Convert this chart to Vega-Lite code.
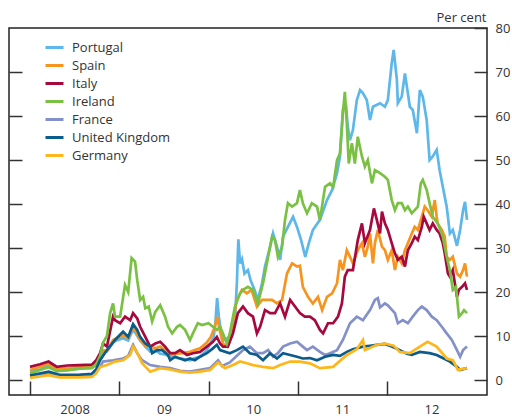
{
"$schema":"https://vega.github.io/schema/vega-lite/v6.json",
"width":478,"height":367,
"autosize":{"type":"none"},
"padding":{"left":9,"top":28,"right":25,"bottom":22},
"config":{"view":{"stroke":"#222","strokeWidth":1.5},"font":"Open Sans",
 "axis":{"labelFont":"Open Sans","labelFontSize":13,"labelColor":"#333","tickColor":"#333","tickWidth":1.5,"domain":false,"grid":false,"titleFont":"Open Sans"}},
"datasets":{"s":[
{"c":"Portugal","d":"2008-01-01","v":2.0},{"c":"Portugal","d":"2008-02-11","v":2.4},{"c":"Portugal","d":"2008-03-17","v":3.4},{"c":"Portugal","d":"2008-04-20","v":2.2},{"c":"Portugal","d":"2008-06-01","v":2.3},{"c":"Portugal","d":"2008-07-20","v":2.6},{"c":"Portugal","d":"2008-09-10","v":2.7},{"c":"Portugal","d":"2008-09-28","v":3.5},{"c":"Portugal","d":"2008-10-14","v":5.5},{"c":"Portugal","d":"2008-10-28","v":6.5},{"c":"Portugal","d":"2008-11-15","v":6.8},{"c":"Portugal","d":"2008-12-06","v":8.5},{"c":"Portugal","d":"2008-12-20","v":9.0},{"c":"Portugal","d":"2009-01-16","v":9.5},{"c":"Portugal","d":"2009-02-06","v":9.0},{"c":"Portugal","d":"2009-02-26","v":11.5},{"c":"Portugal","d":"2009-03-10","v":10.5},{"c":"Portugal","d":"2009-03-27","v":9.0},{"c":"Portugal","d":"2009-04-17","v":7.6},{"c":"Portugal","d":"2009-05-07","v":6.5},{"c":"Portugal","d":"2009-05-28","v":6.8},{"c":"Portugal","d":"2009-06-17","v":6.0},{"c":"Portugal","d":"2009-07-07","v":5.8},{"c":"Portugal","d":"2009-07-28","v":5.3},{"c":"Portugal","d":"2009-08-25","v":5.0},{"c":"Portugal","d":"2009-09-18","v":4.8},{"c":"Portugal","d":"2009-10-17","v":4.5},{"c":"Portugal","d":"2009-11-06","v":5.0},{"c":"Portugal","d":"2009-11-27","v":5.3},{"c":"Portugal","d":"2009-12-25","v":6.8},{"c":"Portugal","d":"2010-01-10","v":8.5},{"c":"Portugal","d":"2010-01-22","v":9.8},{"c":"Portugal","d":"2010-01-29","v":13.0},{"c":"Portugal","d":"2010-02-05","v":18.6},{"c":"Portugal","d":"2010-02-12","v":14.4},{"c":"Portugal","d":"2010-02-20","v":11.4},{"c":"Portugal","d":"2010-03-05","v":9.1},{"c":"Portugal","d":"2010-03-20","v":9.5},{"c":"Portugal","d":"2010-04-05","v":10.6},{"c":"Portugal","d":"2010-04-19","v":14.0},{"c":"Portugal","d":"2010-04-27","v":22.0},{"c":"Portugal","d":"2010-05-03","v":32.0},{"c":"Portugal","d":"2010-05-10","v":26.5},{"c":"Portugal","d":"2010-05-18","v":27.5},{"c":"Portugal","d":"2010-05-28","v":24.2},{"c":"Portugal","d":"2010-06-11","v":25.0},{"c":"Portugal","d":"2010-06-22","v":22.7},{"c":"Portugal","d":"2010-07-08","v":20.5},{"c":"Portugal","d":"2010-07-22","v":18.2},{"c":"Portugal","d":"2010-08-08","v":22.0},{"c":"Portugal","d":"2010-08-20","v":25.8},{"c":"Portugal","d":"2010-09-10","v":30.3},{"c":"Portugal","d":"2010-09-22","v":33.3},{"c":"Portugal","d":"2010-10-08","v":30.3},{"c":"Portugal","d":"2010-10-21","v":27.3},{"c":"Portugal","d":"2010-11-02","v":32.6},{"c":"Portugal","d":"2010-11-22","v":34.8},{"c":"Portugal","d":"2010-12-13","v":37.1},{"c":"Portugal","d":"2010-12-29","v":34.8},{"c":"Portugal","d":"2011-01-15","v":31.8},{"c":"Portugal","d":"2011-02-01","v":28.0},{"c":"Portugal","d":"2011-02-15","v":31.0},{"c":"Portugal","d":"2011-03-04","v":34.1},{"c":"Portugal","d":"2011-04-02","v":36.4},{"c":"Portugal","d":"2011-05-01","v":40.9},{"c":"Portugal","d":"2011-05-22","v":43.2},{"c":"Portugal","d":"2011-06-11","v":47.0},{"c":"Portugal","d":"2011-06-23","v":50.8},{"c":"Portugal","d":"2011-07-05","v":61.4},{"c":"Portugal","d":"2011-07-17","v":62.9},{"c":"Portugal","d":"2011-07-25","v":57.6},{"c":"Portugal","d":"2011-08-03","v":54.5},{"c":"Portugal","d":"2011-08-15","v":56.8},{"c":"Portugal","d":"2011-08-31","v":63.6},{"c":"Portugal","d":"2011-09-13","v":65.9},{"c":"Portugal","d":"2011-09-25","v":65.2},{"c":"Portugal","d":"2011-10-11","v":63.6},{"c":"Portugal","d":"2011-10-24","v":59.1},{"c":"Portugal","d":"2011-11-05","v":62.1},{"c":"Portugal","d":"2011-12-04","v":62.9},{"c":"Portugal","d":"2011-12-24","v":62.1},{"c":"Portugal","d":"2012-01-05","v":63.6},{"c":"Portugal","d":"2012-01-21","v":72.0},{"c":"Portugal","d":"2012-01-29","v":75.0},{"c":"Portugal","d":"2012-02-11","v":68.2},{"c":"Portugal","d":"2012-02-15","v":62.9},{"c":"Portugal","d":"2012-03-02","v":64.4},{"c":"Portugal","d":"2012-03-15","v":69.7},{"c":"Portugal","d":"2012-03-27","v":65.2},{"c":"Portugal","d":"2012-04-04","v":62.1},{"c":"Portugal","d":"2012-04-16","v":61.4},{"c":"Portugal","d":"2012-05-03","v":56.1},{"c":"Portugal","d":"2012-05-15","v":65.9},{"c":"Portugal","d":"2012-05-27","v":64.4},{"c":"Portugal","d":"2012-06-12","v":59.1},{"c":"Portugal","d":"2012-06-24","v":50.0},{"c":"Portugal","d":"2012-07-07","v":50.8},{"c":"Portugal","d":"2012-07-23","v":52.3},{"c":"Portugal","d":"2012-08-04","v":47.7},{"c":"Portugal","d":"2012-08-17","v":43.9},{"c":"Portugal","d":"2012-09-02","v":39.4},{"c":"Portugal","d":"2012-09-15","v":33.3},{"c":"Portugal","d":"2012-09-27","v":34.1},{"c":"Portugal","d":"2012-10-14","v":30.5},{"c":"Portugal","d":"2012-10-27","v":34.1},{"c":"Portugal","d":"2012-11-08","v":38.6},{"c":"Portugal","d":"2012-11-16","v":40.5},{"c":"Portugal","d":"2012-11-24","v":36.4},
{"c":"Spain","d":"2008-01-01","v":2.3},{"c":"Spain","d":"2008-02-11","v":3.0},{"c":"Spain","d":"2008-03-17","v":3.7},{"c":"Spain","d":"2008-04-20","v":2.5},{"c":"Spain","d":"2008-06-01","v":2.7},{"c":"Spain","d":"2008-07-20","v":3.0},{"c":"Spain","d":"2008-09-10","v":3.2},{"c":"Spain","d":"2008-09-28","v":3.8},{"c":"Spain","d":"2008-10-14","v":6.0},{"c":"Spain","d":"2008-10-26","v":6.8},{"c":"Spain","d":"2008-11-11","v":6.5},{"c":"Spain","d":"2008-12-06","v":9.1},{"c":"Spain","d":"2008-12-20","v":9.5},{"c":"Spain","d":"2009-01-16","v":10.2},{"c":"Spain","d":"2009-02-06","v":9.5},{"c":"Spain","d":"2009-02-26","v":12.1},{"c":"Spain","d":"2009-03-10","v":11.0},{"c":"Spain","d":"2009-03-27","v":9.1},{"c":"Spain","d":"2009-04-17","v":7.8},{"c":"Spain","d":"2009-05-07","v":7.6},{"c":"Spain","d":"2009-05-28","v":7.2},{"c":"Spain","d":"2009-06-17","v":7.6},{"c":"Spain","d":"2009-07-07","v":6.8},{"c":"Spain","d":"2009-07-28","v":5.7},{"c":"Spain","d":"2009-08-25","v":6.0},{"c":"Spain","d":"2009-09-18","v":6.1},{"c":"Spain","d":"2009-10-17","v":6.4},{"c":"Spain","d":"2009-11-06","v":6.8},{"c":"Spain","d":"2009-11-27","v":7.2},{"c":"Spain","d":"2009-12-25","v":8.5},{"c":"Spain","d":"2010-01-10","v":9.8},{"c":"Spain","d":"2010-01-27","v":12.1},{"c":"Spain","d":"2010-02-05","v":14.4},{"c":"Spain","d":"2010-02-17","v":11.0},{"c":"Spain","d":"2010-03-01","v":8.3},{"c":"Spain","d":"2010-03-17","v":7.6},{"c":"Spain","d":"2010-04-07","v":12.1},{"c":"Spain","d":"2010-04-27","v":18.2},{"c":"Spain","d":"2010-05-18","v":20.5},{"c":"Spain","d":"2010-06-07","v":19.7},{"c":"Spain","d":"2010-06-26","v":20.5},{"c":"Spain","d":"2010-07-18","v":16.7},{"c":"Spain","d":"2010-08-08","v":18.2},{"c":"Spain","d":"2010-08-28","v":18.2},{"c":"Spain","d":"2010-09-18","v":18.2},{"c":"Spain","d":"2010-10-08","v":17.4},{"c":"Spain","d":"2010-10-29","v":18.2},{"c":"Spain","d":"2010-11-18","v":24.2},{"c":"Spain","d":"2010-12-09","v":26.5},{"c":"Spain","d":"2010-12-29","v":25.8},{"c":"Spain","d":"2011-01-10","v":26.0},{"c":"Spain","d":"2011-01-22","v":21.2},{"c":"Spain","d":"2011-02-12","v":18.9},{"c":"Spain","d":"2011-03-04","v":17.4},{"c":"Spain","d":"2011-03-25","v":18.9},{"c":"Spain","d":"2011-04-11","v":15.9},{"c":"Spain","d":"2011-05-01","v":18.9},{"c":"Spain","d":"2011-05-22","v":19.7},{"c":"Spain","d":"2011-06-11","v":22.0},{"c":"Spain","d":"2011-06-23","v":27.3},{"c":"Spain","d":"2011-07-05","v":25.0},{"c":"Spain","d":"2011-07-21","v":29.5},{"c":"Spain","d":"2011-08-03","v":28.0},{"c":"Spain","d":"2011-08-15","v":26.5},{"c":"Spain","d":"2011-09-04","v":29.5},{"c":"Spain","d":"2011-09-21","v":31.1},{"c":"Spain","d":"2011-10-03","v":28.0},{"c":"Spain","d":"2011-10-15","v":30.3},{"c":"Spain","d":"2011-10-24","v":33.3},{"c":"Spain","d":"2011-11-05","v":26.5},{"c":"Spain","d":"2011-11-13","v":31.1},{"c":"Spain","d":"2011-11-25","v":34.1},{"c":"Spain","d":"2011-12-12","v":30.3},{"c":"Spain","d":"2011-12-24","v":29.5},{"c":"Spain","d":"2012-01-05","v":27.3},{"c":"Spain","d":"2012-01-21","v":29.5},{"c":"Spain","d":"2012-02-03","v":25.0},{"c":"Spain","d":"2012-02-15","v":28.0},{"c":"Spain","d":"2012-03-02","v":26.5},{"c":"Spain","d":"2012-03-15","v":29.5},{"c":"Spain","d":"2012-03-27","v":31.1},{"c":"Spain","d":"2012-04-12","v":33.3},{"c":"Spain","d":"2012-04-24","v":34.8},{"c":"Spain","d":"2012-05-07","v":34.1},{"c":"Spain","d":"2012-05-23","v":37.1},{"c":"Spain","d":"2012-06-04","v":39.4},{"c":"Spain","d":"2012-06-16","v":38.6},{"c":"Spain","d":"2012-07-03","v":37.1},{"c":"Spain","d":"2012-07-15","v":40.9},{"c":"Spain","d":"2012-07-23","v":37.1},{"c":"Spain","d":"2012-07-27","v":35.6},{"c":"Spain","d":"2012-08-13","v":34.1},{"c":"Spain","d":"2012-08-25","v":32.6},{"c":"Spain","d":"2012-09-02","v":28.0},{"c":"Spain","d":"2012-09-15","v":27.3},{"c":"Spain","d":"2012-09-27","v":28.0},{"c":"Spain","d":"2012-10-14","v":24.2},{"c":"Spain","d":"2012-10-27","v":23.5},{"c":"Spain","d":"2012-11-08","v":25.0},{"c":"Spain","d":"2012-11-16","v":26.5},{"c":"Spain","d":"2012-11-24","v":23.5},
{"c":"Italy","d":"2008-01-01","v":3.0},{"c":"Italy","d":"2008-02-11","v":3.6},{"c":"Italy","d":"2008-03-17","v":4.2},{"c":"Italy","d":"2008-04-20","v":3.0},{"c":"Italy","d":"2008-06-01","v":3.3},{"c":"Italy","d":"2008-07-20","v":3.4},{"c":"Italy","d":"2008-09-10","v":3.5},{"c":"Italy","d":"2008-09-28","v":4.5},{"c":"Italy","d":"2008-10-14","v":6.1},{"c":"Italy","d":"2008-10-26","v":8.3},{"c":"Italy","d":"2008-11-11","v":7.6},{"c":"Italy","d":"2008-12-06","v":14.4},{"c":"Italy","d":"2008-12-14","v":13.6},{"c":"Italy","d":"2009-01-04","v":12.9},{"c":"Italy","d":"2009-01-24","v":14.4},{"c":"Italy","d":"2009-02-14","v":13.6},{"c":"Italy","d":"2009-02-26","v":15.2},{"c":"Italy","d":"2009-03-15","v":14.0},{"c":"Italy","d":"2009-03-27","v":12.1},{"c":"Italy","d":"2009-04-17","v":9.8},{"c":"Italy","d":"2009-05-07","v":7.6},{"c":"Italy","d":"2009-05-28","v":8.3},{"c":"Italy","d":"2009-06-17","v":8.7},{"c":"Italy","d":"2009-07-07","v":7.6},{"c":"Italy","d":"2009-07-28","v":6.1},{"c":"Italy","d":"2009-08-17","v":6.1},{"c":"Italy","d":"2009-09-06","v":6.8},{"c":"Italy","d":"2009-10-05","v":5.7},{"c":"Italy","d":"2009-10-29","v":6.1},{"c":"Italy","d":"2009-11-27","v":6.4},{"c":"Italy","d":"2009-12-25","v":7.6},{"c":"Italy","d":"2010-01-19","v":8.7},{"c":"Italy","d":"2010-02-04","v":9.8},{"c":"Italy","d":"2010-02-17","v":8.3},{"c":"Italy","d":"2010-03-01","v":7.6},{"c":"Italy","d":"2010-03-21","v":7.6},{"c":"Italy","d":"2010-04-11","v":10.6},{"c":"Italy","d":"2010-05-01","v":15.2},{"c":"Italy","d":"2010-05-22","v":16.7},{"c":"Italy","d":"2010-06-11","v":15.2},{"c":"Italy","d":"2010-07-02","v":14.4},{"c":"Italy","d":"2010-07-18","v":10.6},{"c":"Italy","d":"2010-07-31","v":12.1},{"c":"Italy","d":"2010-08-20","v":15.9},{"c":"Italy","d":"2010-09-10","v":15.2},{"c":"Italy","d":"2010-09-30","v":15.2},{"c":"Italy","d":"2010-10-21","v":17.4},{"c":"Italy","d":"2010-11-10","v":14.4},{"c":"Italy","d":"2010-12-01","v":18.2},{"c":"Italy","d":"2010-12-21","v":16.7},{"c":"Italy","d":"2011-01-10","v":15.2},{"c":"Italy","d":"2011-01-30","v":14.4},{"c":"Italy","d":"2011-02-20","v":14.4},{"c":"Italy","d":"2011-03-12","v":13.6},{"c":"Italy","d":"2011-04-02","v":11.4},{"c":"Italy","d":"2011-04-15","v":10.6},{"c":"Italy","d":"2011-05-05","v":12.9},{"c":"Italy","d":"2011-05-26","v":12.9},{"c":"Italy","d":"2011-06-15","v":14.4},{"c":"Italy","d":"2011-07-01","v":17.4},{"c":"Italy","d":"2011-07-13","v":23.5},{"c":"Italy","d":"2011-07-25","v":25.0},{"c":"Italy","d":"2011-08-15","v":25.0},{"c":"Italy","d":"2011-09-04","v":31.8},{"c":"Italy","d":"2011-09-21","v":35.6},{"c":"Italy","d":"2011-10-03","v":31.1},{"c":"Italy","d":"2011-10-24","v":34.1},{"c":"Italy","d":"2011-11-09","v":39.0},{"c":"Italy","d":"2011-11-21","v":36.4},{"c":"Italy","d":"2011-12-04","v":33.3},{"c":"Italy","d":"2011-12-12","v":38.3},{"c":"Italy","d":"2011-12-24","v":35.6},{"c":"Italy","d":"2012-01-05","v":34.1},{"c":"Italy","d":"2012-01-21","v":31.1},{"c":"Italy","d":"2012-02-03","v":28.8},{"c":"Italy","d":"2012-02-15","v":27.3},{"c":"Italy","d":"2012-03-02","v":28.0},{"c":"Italy","d":"2012-03-15","v":25.8},{"c":"Italy","d":"2012-03-27","v":29.5},{"c":"Italy","d":"2012-04-12","v":31.1},{"c":"Italy","d":"2012-04-24","v":32.6},{"c":"Italy","d":"2012-05-07","v":31.8},{"c":"Italy","d":"2012-05-23","v":34.8},{"c":"Italy","d":"2012-05-31","v":37.1},{"c":"Italy","d":"2012-06-12","v":35.6},{"c":"Italy","d":"2012-06-24","v":34.1},{"c":"Italy","d":"2012-07-07","v":35.6},{"c":"Italy","d":"2012-07-23","v":34.1},{"c":"Italy","d":"2012-08-04","v":33.3},{"c":"Italy","d":"2012-08-17","v":31.1},{"c":"Italy","d":"2012-08-25","v":28.8},{"c":"Italy","d":"2012-09-07","v":24.2},{"c":"Italy","d":"2012-09-15","v":23.5},{"c":"Italy","d":"2012-09-27","v":25.0},{"c":"Italy","d":"2012-10-14","v":18.9},{"c":"Italy","d":"2012-10-22","v":20.5},{"c":"Italy","d":"2012-11-04","v":21.2},{"c":"Italy","d":"2012-11-16","v":22.0},{"c":"Italy","d":"2012-11-24","v":20.5},
{"c":"Ireland","d":"2008-01-01","v":1.5},{"c":"Ireland","d":"2008-02-11","v":2.3},{"c":"Ireland","d":"2008-03-17","v":2.9},{"c":"Ireland","d":"2008-04-20","v":2.0},{"c":"Ireland","d":"2008-06-01","v":2.2},{"c":"Ireland","d":"2008-07-20","v":2.6},{"c":"Ireland","d":"2008-09-10","v":2.8},{"c":"Ireland","d":"2008-09-28","v":3.5},{"c":"Ireland","d":"2008-10-14","v":5.5},{"c":"Ireland","d":"2008-10-26","v":8.5},{"c":"Ireland","d":"2008-11-11","v":10.0},{"c":"Ireland","d":"2008-11-24","v":15.2},{"c":"Ireland","d":"2008-12-06","v":17.4},{"c":"Ireland","d":"2008-12-14","v":14.4},{"c":"Ireland","d":"2009-01-04","v":14.4},{"c":"Ireland","d":"2009-01-24","v":21.6},{"c":"Ireland","d":"2009-02-06","v":20.0},{"c":"Ireland","d":"2009-02-20","v":27.7},{"c":"Ireland","d":"2009-03-06","v":26.9},{"c":"Ireland","d":"2009-03-15","v":22.7},{"c":"Ireland","d":"2009-03-27","v":18.2},{"c":"Ireland","d":"2009-04-08","v":18.9},{"c":"Ireland","d":"2009-04-17","v":16.3},{"c":"Ireland","d":"2009-05-01","v":16.7},{"c":"Ireland","d":"2009-05-15","v":13.3},{"c":"Ireland","d":"2009-05-28","v":15.5},{"c":"Ireland","d":"2009-06-17","v":17.0},{"c":"Ireland","d":"2009-07-07","v":14.4},{"c":"Ireland","d":"2009-07-19","v":12.1},{"c":"Ireland","d":"2009-08-05","v":10.6},{"c":"Ireland","d":"2009-08-25","v":12.1},{"c":"Ireland","d":"2009-09-06","v":12.5},{"c":"Ireland","d":"2009-09-27","v":11.4},{"c":"Ireland","d":"2009-10-17","v":9.1},{"c":"Ireland","d":"2009-10-29","v":10.6},{"c":"Ireland","d":"2009-11-18","v":12.9},{"c":"Ireland","d":"2009-12-05","v":12.5},{"c":"Ireland","d":"2010-01-01","v":12.9},{"c":"Ireland","d":"2010-01-19","v":12.1},{"c":"Ireland","d":"2010-02-04","v":11.4},{"c":"Ireland","d":"2010-02-17","v":12.1},{"c":"Ireland","d":"2010-03-01","v":10.6},{"c":"Ireland","d":"2010-03-17","v":8.3},{"c":"Ireland","d":"2010-03-29","v":10.6},{"c":"Ireland","d":"2010-04-19","v":16.7},{"c":"Ireland","d":"2010-05-10","v":19.7},{"c":"Ireland","d":"2010-05-22","v":20.5},{"c":"Ireland","d":"2010-06-11","v":21.2},{"c":"Ireland","d":"2010-07-02","v":20.5},{"c":"Ireland","d":"2010-07-22","v":17.4},{"c":"Ireland","d":"2010-08-12","v":22.0},{"c":"Ireland","d":"2010-09-02","v":28.0},{"c":"Ireland","d":"2010-09-18","v":32.6},{"c":"Ireland","d":"2010-09-30","v":31.8},{"c":"Ireland","d":"2010-10-12","v":28.0},{"c":"Ireland","d":"2010-10-29","v":30.3},{"c":"Ireland","d":"2010-11-10","v":36.4},{"c":"Ireland","d":"2010-11-22","v":40.2},{"c":"Ireland","d":"2010-12-09","v":39.4},{"c":"Ireland","d":"2010-12-29","v":40.2},{"c":"Ireland","d":"2011-01-10","v":43.2},{"c":"Ireland","d":"2011-01-22","v":40.2},{"c":"Ireland","d":"2011-02-08","v":37.9},{"c":"Ireland","d":"2011-02-28","v":40.2},{"c":"Ireland","d":"2011-03-21","v":39.4},{"c":"Ireland","d":"2011-04-02","v":36.4},{"c":"Ireland","d":"2011-04-23","v":43.9},{"c":"Ireland","d":"2011-05-13","v":44.7},{"c":"Ireland","d":"2011-05-26","v":43.9},{"c":"Ireland","d":"2011-06-11","v":50.0},{"c":"Ireland","d":"2011-06-23","v":51.5},{"c":"Ireland","d":"2011-07-05","v":60.6},{"c":"Ireland","d":"2011-07-13","v":65.5},{"c":"Ireland","d":"2011-07-21","v":58.3},{"c":"Ireland","d":"2011-07-29","v":49.2},{"c":"Ireland","d":"2011-08-11","v":53.8},{"c":"Ireland","d":"2011-08-23","v":49.2},{"c":"Ireland","d":"2011-09-04","v":55.3},{"c":"Ireland","d":"2011-09-21","v":50.8},{"c":"Ireland","d":"2011-10-03","v":48.5},{"c":"Ireland","d":"2011-10-15","v":50.0},{"c":"Ireland","d":"2011-11-01","v":44.7},{"c":"Ireland","d":"2011-11-13","v":47.7},{"c":"Ireland","d":"2011-12-04","v":47.0},{"c":"Ireland","d":"2011-12-24","v":46.2},{"c":"Ireland","d":"2012-01-05","v":45.5},{"c":"Ireland","d":"2012-01-21","v":40.9},{"c":"Ireland","d":"2012-02-03","v":38.6},{"c":"Ireland","d":"2012-02-15","v":40.2},{"c":"Ireland","d":"2012-03-02","v":40.2},{"c":"Ireland","d":"2012-03-15","v":38.6},{"c":"Ireland","d":"2012-03-27","v":39.4},{"c":"Ireland","d":"2012-04-12","v":37.9},{"c":"Ireland","d":"2012-04-24","v":38.6},{"c":"Ireland","d":"2012-05-07","v":39.4},{"c":"Ireland","d":"2012-05-19","v":44.7},{"c":"Ireland","d":"2012-05-27","v":45.5},{"c":"Ireland","d":"2012-06-12","v":43.2},{"c":"Ireland","d":"2012-06-24","v":40.2},{"c":"Ireland","d":"2012-07-07","v":37.1},{"c":"Ireland","d":"2012-07-27","v":35.6},{"c":"Ireland","d":"2012-08-17","v":32.6},{"c":"Ireland","d":"2012-09-02","v":28.0},{"c":"Ireland","d":"2012-09-15","v":25.0},{"c":"Ireland","d":"2012-09-27","v":20.5},{"c":"Ireland","d":"2012-10-10","v":21.2},{"c":"Ireland","d":"2012-10-18","v":16.7},{"c":"Ireland","d":"2012-10-22","v":14.4},{"c":"Ireland","d":"2012-11-04","v":15.2},{"c":"Ireland","d":"2012-11-12","v":15.9},{"c":"Ireland","d":"2012-11-24","v":15.2},
{"c":"France","d":"2008-01-01","v":0.8},{"c":"France","d":"2008-03-17","v":1.5},{"c":"France","d":"2008-05-01","v":1.0},{"c":"France","d":"2008-07-20","v":1.1},{"c":"France","d":"2008-09-10","v":1.3},{"c":"France","d":"2008-10-14","v":3.0},{"c":"France","d":"2008-10-26","v":4.2},{"c":"France","d":"2008-12-06","v":4.5},{"c":"France","d":"2009-01-16","v":4.9},{"c":"France","d":"2009-02-06","v":5.5},{"c":"France","d":"2009-02-26","v":8.0},{"c":"France","d":"2009-03-15","v":6.1},{"c":"France","d":"2009-04-04","v":4.5},{"c":"France","d":"2009-05-07","v":3.4},{"c":"France","d":"2009-06-17","v":3.0},{"c":"France","d":"2009-07-28","v":2.7},{"c":"France","d":"2009-09-06","v":2.1},{"c":"France","d":"2009-10-17","v":1.9},{"c":"France","d":"2009-11-27","v":2.3},{"c":"France","d":"2010-01-07","v":2.7},{"c":"France","d":"2010-02-09","v":4.5},{"c":"France","d":"2010-02-25","v":3.2},{"c":"France","d":"2010-03-29","v":4.0},{"c":"France","d":"2010-04-27","v":5.5},{"c":"France","d":"2010-05-22","v":6.8},{"c":"France","d":"2010-06-19","v":7.6},{"c":"France","d":"2010-07-18","v":6.1},{"c":"France","d":"2010-08-12","v":6.1},{"c":"France","d":"2010-09-02","v":6.8},{"c":"France","d":"2010-09-22","v":5.3},{"c":"France","d":"2010-10-12","v":6.1},{"c":"France","d":"2010-11-02","v":7.6},{"c":"France","d":"2010-12-01","v":8.3},{"c":"France","d":"2010-12-29","v":8.7},{"c":"France","d":"2011-01-22","v":7.6},{"c":"France","d":"2011-02-08","v":6.8},{"c":"France","d":"2011-03-04","v":7.6},{"c":"France","d":"2011-04-02","v":6.4},{"c":"France","d":"2011-04-23","v":5.7},{"c":"France","d":"2011-05-13","v":6.1},{"c":"France","d":"2011-06-11","v":6.8},{"c":"France","d":"2011-07-05","v":9.1},{"c":"France","d":"2011-08-03","v":12.9},{"c":"France","d":"2011-08-31","v":14.4},{"c":"France","d":"2011-09-25","v":13.6},{"c":"France","d":"2011-10-24","v":15.9},{"c":"France","d":"2011-11-13","v":18.2},{"c":"France","d":"2011-11-25","v":18.6},{"c":"France","d":"2011-12-04","v":16.5},{"c":"France","d":"2011-12-24","v":17.4},{"c":"France","d":"2012-01-05","v":17.0},{"c":"France","d":"2012-01-21","v":16.0},{"c":"France","d":"2012-02-03","v":15.2},{"c":"France","d":"2012-02-15","v":12.9},{"c":"France","d":"2012-03-06","v":13.6},{"c":"France","d":"2012-03-27","v":12.9},{"c":"France","d":"2012-04-16","v":14.4},{"c":"France","d":"2012-05-07","v":15.9},{"c":"France","d":"2012-05-23","v":16.7},{"c":"France","d":"2012-06-12","v":15.9},{"c":"France","d":"2012-07-03","v":14.4},{"c":"France","d":"2012-07-23","v":13.6},{"c":"France","d":"2012-08-13","v":12.1},{"c":"France","d":"2012-09-02","v":10.6},{"c":"France","d":"2012-09-23","v":9.1},{"c":"France","d":"2012-10-14","v":6.8},{"c":"France","d":"2012-10-27","v":5.3},{"c":"France","d":"2012-11-08","v":6.8},{"c":"France","d":"2012-11-24","v":7.6},
{"c":"United Kingdom","d":"2008-01-01","v":1.0},{"c":"United Kingdom","d":"2008-03-17","v":1.9},{"c":"United Kingdom","d":"2008-05-01","v":1.2},{"c":"United Kingdom","d":"2008-07-20","v":1.2},{"c":"United Kingdom","d":"2008-09-10","v":1.4},{"c":"United Kingdom","d":"2008-09-28","v":2.5},{"c":"United Kingdom","d":"2008-10-14","v":4.5},{"c":"United Kingdom","d":"2008-11-11","v":6.8},{"c":"United Kingdom","d":"2008-12-14","v":9.1},{"c":"United Kingdom","d":"2009-01-16","v":11.0},{"c":"United Kingdom","d":"2009-02-06","v":9.8},{"c":"United Kingdom","d":"2009-02-26","v":12.7},{"c":"United Kingdom","d":"2009-03-15","v":11.4},{"c":"United Kingdom","d":"2009-03-27","v":9.8},{"c":"United Kingdom","d":"2009-04-17","v":8.3},{"c":"United Kingdom","d":"2009-05-07","v":7.6},{"c":"United Kingdom","d":"2009-05-15","v":6.1},{"c":"United Kingdom","d":"2009-06-05","v":6.8},{"c":"United Kingdom","d":"2009-06-25","v":6.8},{"c":"United Kingdom","d":"2009-07-19","v":5.7},{"c":"United Kingdom","d":"2009-07-28","v":4.5},{"c":"United Kingdom","d":"2009-08-17","v":5.3},{"c":"United Kingdom","d":"2009-09-06","v":4.9},{"c":"United Kingdom","d":"2009-09-27","v":4.5},{"c":"United Kingdom","d":"2009-10-17","v":4.9},{"c":"United Kingdom","d":"2009-11-06","v":4.5},{"c":"United Kingdom","d":"2009-11-27","v":5.3},{"c":"United Kingdom","d":"2009-12-25","v":6.1},{"c":"United Kingdom","d":"2010-01-19","v":7.2},{"c":"United Kingdom","d":"2010-02-04","v":8.0},{"c":"United Kingdom","d":"2010-02-17","v":6.8},{"c":"United Kingdom","d":"2010-03-29","v":6.1},{"c":"United Kingdom","d":"2010-04-27","v":6.8},{"c":"United Kingdom","d":"2010-05-22","v":7.6},{"c":"United Kingdom","d":"2010-06-19","v":6.1},{"c":"United Kingdom","d":"2010-07-18","v":5.7},{"c":"United Kingdom","d":"2010-08-12","v":4.5},{"c":"United Kingdom","d":"2010-09-10","v":6.1},{"c":"United Kingdom","d":"2010-10-08","v":4.9},{"c":"United Kingdom","d":"2010-11-02","v":6.1},{"c":"United Kingdom","d":"2010-12-01","v":5.7},{"c":"United Kingdom","d":"2010-12-29","v":5.3},{"c":"United Kingdom","d":"2011-01-22","v":4.9},{"c":"United Kingdom","d":"2011-02-20","v":5.0},{"c":"United Kingdom","d":"2011-03-21","v":4.5},{"c":"United Kingdom","d":"2011-04-23","v":5.3},{"c":"United Kingdom","d":"2011-05-26","v":5.7},{"c":"United Kingdom","d":"2011-06-23","v":5.5},{"c":"United Kingdom","d":"2011-07-21","v":6.4},{"c":"United Kingdom","d":"2011-08-15","v":7.0},{"c":"United Kingdom","d":"2011-09-25","v":7.6},{"c":"United Kingdom","d":"2011-10-24","v":7.8},{"c":"United Kingdom","d":"2011-11-21","v":8.0},{"c":"United Kingdom","d":"2011-12-24","v":8.2},{"c":"United Kingdom","d":"2012-01-21","v":7.6},{"c":"United Kingdom","d":"2012-02-23","v":6.8},{"c":"United Kingdom","d":"2012-03-23","v":6.0},{"c":"United Kingdom","d":"2012-04-12","v":5.7},{"c":"United Kingdom","d":"2012-05-15","v":6.4},{"c":"United Kingdom","d":"2012-06-24","v":6.1},{"c":"United Kingdom","d":"2012-07-23","v":5.7},{"c":"United Kingdom","d":"2012-08-17","v":5.0},{"c":"United Kingdom","d":"2012-09-15","v":4.2},{"c":"United Kingdom","d":"2012-10-14","v":3.0},{"c":"United Kingdom","d":"2012-10-27","v":2.3},{"c":"United Kingdom","d":"2012-11-24","v":2.7},
{"c":"Germany","d":"2008-01-01","v":0.5},{"c":"Germany","d":"2008-03-17","v":1.1},{"c":"Germany","d":"2008-05-01","v":0.6},{"c":"Germany","d":"2008-07-20","v":0.6},{"c":"Germany","d":"2008-09-10","v":0.7},{"c":"Germany","d":"2008-09-28","v":1.5},{"c":"Germany","d":"2008-10-14","v":3.0},{"c":"Germany","d":"2008-11-11","v":3.4},{"c":"Germany","d":"2008-12-14","v":4.2},{"c":"Germany","d":"2009-01-16","v":4.5},{"c":"Germany","d":"2009-02-14","v":5.7},{"c":"Germany","d":"2009-02-26","v":7.6},{"c":"Germany","d":"2009-03-10","v":6.8},{"c":"Germany","d":"2009-04-04","v":3.8},{"c":"Germany","d":"2009-05-07","v":1.9},{"c":"Germany","d":"2009-06-17","v":2.7},{"c":"Germany","d":"2009-07-28","v":2.4},{"c":"Germany","d":"2009-09-06","v":1.9},{"c":"Germany","d":"2009-10-17","v":1.7},{"c":"Germany","d":"2009-11-27","v":1.9},{"c":"Germany","d":"2010-01-07","v":2.3},{"c":"Germany","d":"2010-02-09","v":4.0},{"c":"Germany","d":"2010-03-09","v":2.7},{"c":"Germany","d":"2010-04-11","v":3.4},{"c":"Germany","d":"2010-05-10","v":4.2},{"c":"Germany","d":"2010-06-07","v":3.8},{"c":"Germany","d":"2010-07-02","v":3.4},{"c":"Germany","d":"2010-08-12","v":3.0},{"c":"Germany","d":"2010-09-22","v":2.7},{"c":"Germany","d":"2010-10-21","v":3.4},{"c":"Germany","d":"2010-12-01","v":4.2},{"c":"Germany","d":"2011-01-10","v":4.2},{"c":"Germany","d":"2011-02-20","v":3.8},{"c":"Germany","d":"2011-04-02","v":2.7},{"c":"Germany","d":"2011-05-26","v":3.0},{"c":"Germany","d":"2011-07-21","v":5.7},{"c":"Germany","d":"2011-08-31","v":7.0},{"c":"Germany","d":"2011-09-25","v":9.1},{"c":"Germany","d":"2011-10-03","v":6.8},{"c":"Germany","d":"2011-11-21","v":8.0},{"c":"Germany","d":"2011-12-24","v":8.3},{"c":"Germany","d":"2012-01-29","v":7.8},{"c":"Germany","d":"2012-02-23","v":6.4},{"c":"Germany","d":"2012-04-04","v":6.1},{"c":"Germany","d":"2012-05-15","v":7.6},{"c":"Germany","d":"2012-06-16","v":8.7},{"c":"Germany","d":"2012-07-23","v":7.6},{"c":"Germany","d":"2012-09-02","v":4.9},{"c":"Germany","d":"2012-09-27","v":4.5},{"c":"Germany","d":"2012-10-18","v":2.3},{"c":"Germany","d":"2012-11-24","v":2.7}
]},
"data":{"name":"s"},
"layer":[
 {"mark":{"type":"line","opacity":0},
  "encoding":{
   "x":{"field":"d","type":"temporal",
     "scale":{"type":"utc","domain":[{"year":2007,"month":10,"date":7,"utc":true},{"year":2013,"month":2,"date":14,"utc":true}]},
     "axis":{"title":null,"orient":"bottom","values":[{"year":2008,"month":1,"date":1,"utc":true},{"year":2009,"month":1,"date":1,"utc":true},{"year":2010,"month":1,"date":1,"utc":true},{"year":2011,"month":1,"date":1,"utc":true},{"year":2012,"month":1,"date":1,"utc":true}],
       "labelExpr":"utcyear(datum.value) == 2008 ? '2008' : utcFormat(datum.value, '%y')","labelOffset":44.6,"labelFlush":false,"labelOverlap":false,"tickSize":-14,"labelPadding":22,"labelBaseline":"top"}},
   "y":{"field":"v","type":"quantitative","scale":{"domain":[-3.4,80],"nice":false,"zero":false},
     "axis":{"orient":"left","title":null,"labels":false,"values":[0,10,20,30,40,50,60,70],"tickSize":-13}},
   "detail":{"field":"c"}}},
 {"mark":{"type":"line","strokeWidth":2.7,"clip":true},
  "encoding":{
   "x":{"field":"d","type":"temporal"},
   "y":{"field":"v","type":"quantitative",
     "axis":{"orient":"right","values":[0,10,20,30,40,50,60,70,80],"tickSize":-13,"labelPadding":21,"labelAlign":"left",
       "title":"Per cent","titleAngle":0,"titleAlign":"right","titleBaseline":"alphabetic","titleX":-1,"titleY":-7,"titleFontSize":13,"titleFontWeight":"normal","titleColor":"#333","titlePadding":0}},
   "color":{"field":"c","type":"nominal",
     "scale":{"domain":["Portugal","Spain","Italy","Ireland","France","United Kingdom","Germany"],"range":["#5DB7E8","#F7941D","#A6093D","#7AC143","#8491C8","#0B5B8C","#FDB71A"]},
     "legend":{"orient":"none","legendX":35,"legendY":9,"title":null,"symbolType":"stroke","symbolSize":324,"symbolStrokeWidth":3,"labelFont":"Open Sans","labelFontSize":13,"labelColor":"#333","labelOffset":7,"rowPadding":0,"padding":0}}}}
],
"resolve":{"axis":{"y":"independent"}}
}
